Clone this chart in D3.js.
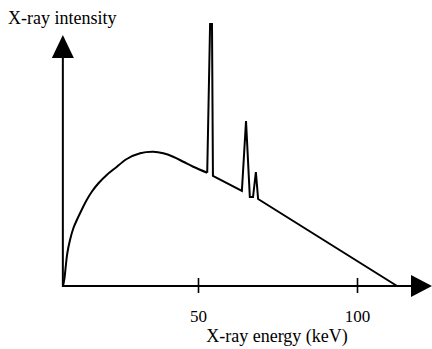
<!DOCTYPE html>
<html>
<head>
<meta charset="utf-8">
<script src="https://cdn.jsdelivr.net/npm/d3@7"></script>
<style>
  body { margin: 0; background: #fff; }
  svg text { font-family: "Liberation Serif", "Times New Roman", serif; fill: #000; }
</style>
</head>
<body>
<div id="chart"></div>
<script>
// Bremsstrahlung continuum (smooth part), keV vs arbitrary intensity
const smoothKeV = [7.55, 8.02, 8.4, 8.9, 9.75, 10.8, 11.9, 13.4, 15.0, 16.6, 18.7, 21.3, 23.9, 27.6, 31.8, 35.9, 39.1, 42.2, 45.4, 48.5, 52.9];
const smoothIntensity = [0, 3.2, 7.7, 13.1, 18.4, 23.1, 26.4, 30.4, 34.4, 37.7, 41.1, 44.4, 47.1, 50.8, 53.1, 53.7, 53.1, 51.7, 49.7, 47.7, 45.3];

// Characteristic peaks and the linear tail down to the tube voltage
const peakKeV = [52.9, 53.8, 54.1, 54.4, 54.7, 63.8, 65.1, 66.3, 67.3, 68.2, 68.9, 112.6];
const peakIntensity = [45.3, 104.8, 104.8, 104.8, 44.0, 38.0, 66.0, 35.6, 35.6, 45.6, 34.8, 0];

const tickKeV = [50, 100];
const axisStartKeV = 7.5;
const xTitle = 'X-ray energy (keV)';
const yTitle = 'X-ray intensity';

const width = 432;
const height = 349;

const svg = d3.select('#chart')
    .append('svg')
    .attr('width', width)
    .attr('height', height);

const x = d3.scaleLinear().domain([0, 120]).range([39, 420.6]);
const y = d3.scaleLinear().domain([0, 100]).range([286, 36]);

const x0 = x(axisStartKeV);
const y0 = y(0);

// axes lines
svg.append('line')
    .attr('x1', x0).attr('x2', 414)
    .attr('y1', y0).attr('y2', y0)
    .attr('stroke', '#000').attr('stroke-width', 2);

svg.append('line')
    .attr('x1', x0).attr('x2', x0)
    .attr('y1', y0 + 1).attr('y2', 56)
    .attr('stroke', '#000').attr('stroke-width', 2);

// arrow heads
svg.append('path')
    .attr('d', `M${x0},35 L${x0 - 11},58 L${x0 + 11},58 Z`)
    .attr('fill', '#000');

svg.append('path')
    .attr('d', `M432,${y0} L411,${y0 - 11} L411,${y0 + 11} Z`)
    .attr('fill', '#000');

// ticks
const xAxis = d3.axisBottom(x)
    .tickValues(tickKeV)
    .tickFormat(d3.format('d'))
    .tickSize(7);

const gx = svg.append('g')
    .attr('transform', `translate(0,${y0})`)
    .call(xAxis);

gx.select('.domain').remove();
gx.selectAll('.tick line')
    .attr('y1', -8)
    .attr('y2', 7)
    .attr('stroke', '#000')
    .attr('stroke-width', 1.6);
gx.selectAll('.tick text')
    .attr('y', 36)
    .attr('dy', 0)
    .style('font-size', '17px')
    .style('font-family', '"Liberation Serif", serif')
    .attr('fill', '#000');

// spectrum
const smoothLine = d3.line()
    .x((d, i) => x(smoothKeV[i]))
    .y((d, i) => y(smoothIntensity[i]))
    .curve(d3.curveCatmullRom.alpha(0.5));

const peakLine = d3.line()
    .x((d, i) => x(peakKeV[i]))
    .y((d, i) => y(peakIntensity[i]));

svg.append('path')
    .attr('d', smoothLine(smoothKeV))
    .attr('fill', 'none')
    .attr('stroke', '#000')
    .attr('stroke-width', 2);

svg.append('path')
    .attr('d', peakLine(peakKeV))
    .attr('fill', 'none')
    .attr('stroke', '#000')
    .attr('stroke-width', 2)
    .attr('stroke-linejoin', 'miter');

// titles
svg.append('text')
    .attr('x', 8)
    .attr('y', 24)
    .style('font-size', '18px')
    .text(yTitle);

svg.append('text')
    .attr('x', 277)
    .attr('y', 342)
    .attr('text-anchor', 'middle')
    .style('font-size', '18px')
    .text(xTitle);
</script>
</body>
</html>
